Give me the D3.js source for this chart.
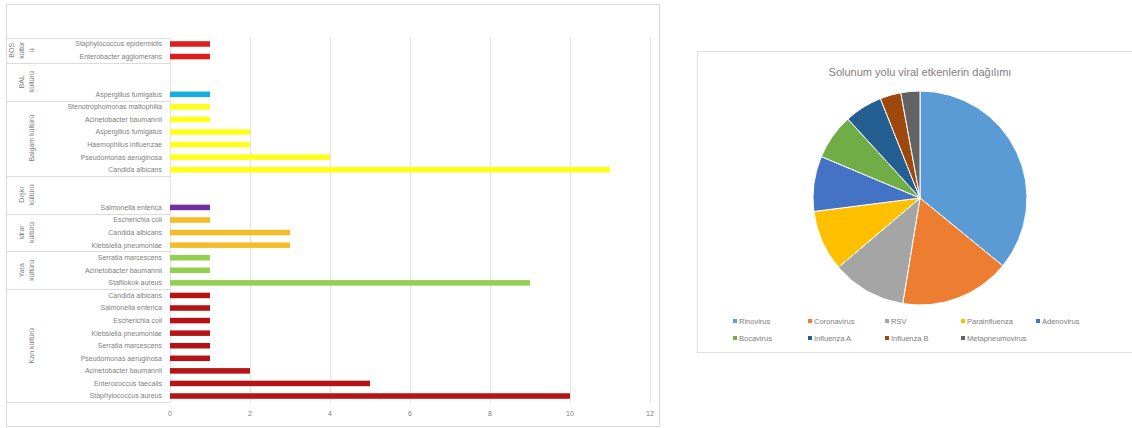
<!DOCTYPE html>
<html>
<head>
<meta charset="utf-8">
<script src="https://cdn.jsdelivr.net/npm/d3@7"></script>
<style>
  html, body { margin: 0; padding: 0; background: #fff; }
  svg { display: block; font-family: "Liberation Sans", Arial, sans-serif; }
</style>
</head>
<body>
<svg id="chart" width="1132" height="428"></svg>
<script>
// ---------- Bar chart data (top to bottom) ----------
const organisms = [
  "Staphylococcus epidermidis", "Enterobacter agglomerans",
  "", "", "Aspergillus fumigatus",
  "Stenotrophomonas maltophilia", "Acinetobacter baumannii", "Aspergillus fumigatus",
  "Haemophilus influenzae", "Pseudomonas aeruginosa", "Candida albicans",
  "", "", "Salmonella enterica",
  "Escherichia coli", "Candida albicans", "Klebsiella pneumoniae",
  "Serratia marcescens", "Acinetobacter baumannii", "Stafilokok aureus",
  "Candida albicans", "Salmonella enterica", "Escherichia coli",
  "Klebsiella pneumoniae", "Serratia marcescens", "Pseudomonas aeruginosa",
  "Acinetobacter baumannii", "Enterococcus faecalis", "Staphylococcus aureus"
];
const counts = [1, 1, 0, 0, 1, 1, 1, 2, 2, 4, 11, 0, 0, 1, 1, 3, 3, 1, 1, 9, 1, 1, 1, 1, 1, 1, 2, 5, 10];
const groupNames = [["BOS", "kültür", "ü"], ["BAL", "kültürü"], ["Balgam kültürü"], ["Dışkı", "kültürü"], ["İdrar", "kültürü"], ["Yara", "kültürü"], ["Kan kültürü"]];
const groupStart = [0, 2, 5, 11, 14, 17, 20];
const groupEnd   = [1, 4, 10, 13, 16, 19, 28];
const groupColors = ["#DC1E1E", "#12AEE0", "#FFFF1A", "#7030A0", "#F5BC2A", "#92D050", "#B41414"];
const xTicks = [0, 2, 4, 6, 8, 10, 12];

// ---------- Pie chart data ----------
const virusNames = ["Rinovirus", "Coronavirus", "RSV", "Parainfluenza", "Adenovirus", "Bocavirus", "Influenza A", "Influenza B", "Metapneumovirus"];
const virusValues = [12.5, 5.8, 3.9, 3.2, 2.9, 2.4, 2.0, 1.1, 1.0];
const virusColors = ["#5B9BD5", "#ED7D31", "#A5A5A5", "#FFC000", "#4472C4", "#70AD47", "#255E91", "#9E480E", "#636363"];
const pieTitle = "Solunum yolu viral etkenlerin dağılımı";

const textColor = "#808080";
const svg = d3.select("#chart");
svg.append("rect").attr("width", 1132).attr("height", 428).attr("fill", "#fff");

// ================= BAR CHART =================
const left = svg.append("g");
left.append("rect").attr("x", 6.5).attr("y", 4.5).attr("width", 653).attr("height", 422)
  .attr("fill", "#fff").attr("stroke", "#d9d9d9");

const x = d3.scaleLinear().domain([0, 12]).range([170, 650]);
const y = d3.scaleBand().domain(d3.range(organisms.length)).range([37.7, 402.3])
  .paddingInner(0.56).paddingOuter(0.28);
const step = y.step();
const rowTop = i => y(i) - y.paddingInner() * step / 2;

// vertical gridlines
left.append("g").selectAll("line").data(xTicks).join("line")
  .attr("x1", d => x(d) + 0.5).attr("x2", d => x(d) + 0.5)
  .attr("y1", 37.7).attr("y2", 402.3)
  .attr("stroke", "#e3e3e3").attr("stroke-width", 1);

// tick labels
left.append("g").selectAll("text").data(xTicks).join("text")
  .attr("x", d => x(d)).attr("y", 415.5)
  .attr("text-anchor", "middle").attr("font-size", 7).attr("fill", textColor)
  .text(d => d);

// group separator lines across category area
const sepY = [37.7].concat(groupEnd.map(e => rowTop(e) + step));
left.append("g").selectAll("line").data(sepY).join("line")
  .attr("x1", 7).attr("x2", 170)
  .attr("y1", d => Math.round(d) + 0.5).attr("y2", d => Math.round(d) + 0.5)
  .attr("stroke", "#dcdcdc");

// bars
const groupOf = i => groupStart.findIndex((s, g) => i >= s && i <= groupEnd[g]);
left.append("g").selectAll("rect").data(counts.map((v, i) => ({v, i})).filter(d => d.v > 0)).join("rect")
  .attr("x", x(0)).attr("y", d => y(d.i))
  .attr("width", d => x(d.v) - x(0)).attr("height", y.bandwidth())
  .attr("fill", d => groupColors[groupOf(d.i)]);

// organism labels
left.append("g").selectAll("text").data(organisms.map((n, i) => ({n, i})).filter(d => d.n)).join("text")
  .attr("x", 162).attr("y", d => y(d.i) + y.bandwidth() / 2)
  .attr("dy", "0.35em").attr("text-anchor", "end")
  .attr("font-size", 7).attr("fill", textColor)
  .text(d => d.n);

// group labels (rotated)
groupNames.forEach((lines, g) => {
  const cy = (rowTop(groupStart[g]) + rowTop(groupEnd[g]) + step) / 2;
  const n = lines.length;
  lines.forEach((t, k) => {
    const cx = 34 - (n - 1 - k) * 10;
    left.append("text")
      .attr("transform", `translate(${cx},${cy}) rotate(-90)`)
      .attr("text-anchor", "middle").attr("font-size", 7).attr("fill", textColor)
      .text(t);
  });
});

// ================= PIE CHART =================
const right = svg.append("g");
right.append("rect").attr("x", 697.5).attr("y", 51.5).attr("width", 440).attr("height", 301)
  .attr("fill", "#fff").attr("stroke", "#dedede");

right.append("text").attr("x", 920).attr("y", 76)
  .attr("text-anchor", "middle").attr("font-size", 11).attr("fill", textColor)
  .text(pieTitle);

const pie = d3.pie().sort(null).value(d => d)(virusValues);
const arc = d3.arc().innerRadius(0).outerRadius(107);
right.append("g").attr("transform", "translate(920,198)")
  .selectAll("path").data(pie).join("path")
  .attr("d", arc)
  .attr("fill", (d, i) => virusColors[i])
  .attr("stroke", "#fff").attr("stroke-width", 1);

// legend
const legX = [735, 810, 887, 963, 1038];
const legend = right.append("g").selectAll("g").data(virusNames).join("g")
  .attr("transform", (d, i) => `translate(${legX[i % 5]},${i < 5 ? 321 : 338})`);
legend.append("rect").attr("x", -2).attr("y", -2).attr("width", 4).attr("height", 4)
  .attr("fill", (d, i) => virusColors[i]);
legend.append("text").attr("x", 4).attr("dy", "0.35em")
  .attr("font-size", 7.5).attr("fill", textColor)
  .text(d => d);
</script>
</body>
</html>
